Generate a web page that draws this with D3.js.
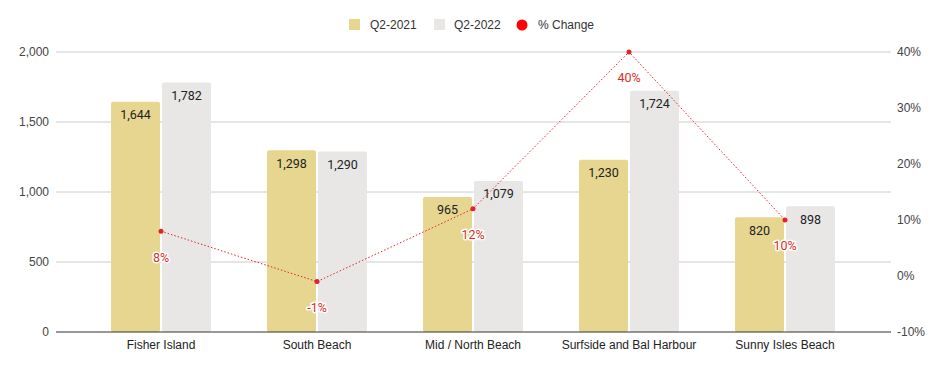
<!DOCTYPE html>
<html>
<head>
<meta charset="utf-8">
<script src="https://cdn.jsdelivr.net/npm/d3@7"></script>
<style>
  body { margin: 0; background: #fff; }
  svg { display: block; font-family: Arial, "Liberation Sans", sans-serif; }
</style>
</head>
<body>
<div id="chart"></div>
<script>
const areas = ["Fisher Island", "South Beach", "Mid / North Beach", "Surfside and Bal Harbour", "Sunny Isles Beach"]
const q2_2021 = [1644, 1298, 965, 1230, 820]
const q2_2022 = [1782, 1290, 1079, 1724, 898]
const pct_change = [8, -1, 12, 40, 10]
const left_ticks = [0, 500, 1000, 1500, 2000]
const right_ticks = [-10, 0, 10, 20, 30, 40]

const W = 944, H = 371
const plot = { left: 56, right: 891, top: 52, bottom: 332 }
const gold = "#e6d68f", grey = "#e8e7e6", red = "#e8202a"

const svg = d3.select("#chart").append("svg")
    .attr("width", W)
    .attr("height", H)

const x = d3.scaleBand()
    .domain(areas)
    .range([83, 863])

const y = d3.scaleLinear()
    .domain([0, 2000])
    .range([plot.bottom, plot.top])

const y2 = d3.scaleLinear()
    .domain([-10, 40])
    .range([plot.bottom, plot.top])

// gridlines
svg.append("g").selectAll("line")
    .data(left_ticks.filter(d => d > 0))
    .join("line")
    .attr("x1", plot.left).attr("x2", plot.right)
    .attr("y1", d => y(d)).attr("y2", d => y(d))
    .attr("stroke", "#cccccc")
    .attr("stroke-width", 1)

// left axis labels
svg.append("g").selectAll("text")
    .data(left_ticks)
    .join("text")
    .attr("x", 49)
    .attr("y", d => y(d))
    .attr("dy", "0.35em")
    .attr("text-anchor", "end")
    .attr("font-size", 12)
    .attr("fill", "#444")
    .text(d3.format(","))

// right axis labels
svg.append("g").selectAll("text")
    .data(right_ticks)
    .join("text")
    .attr("x", 897)
    .attr("y", d => y2(d))
    .attr("dy", "0.35em")
    .attr("text-anchor", "start")
    .attr("font-size", 12)
    .attr("fill", "#444")
    .text(d => d + "%")

const barW = 49, gap = 2
const groups = svg.append("g").selectAll("g")
    .data(areas)
    .join("g")
    .attr("transform", d => `translate(${x(d) + x.bandwidth() / 2}, 0)`)

const series = [
    { values: q2_2021, color: gold, dx: -gap / 2 - barW },
    { values: q2_2022, color: grey, dx: gap / 2 }
]

series.forEach(s => {
    groups.append("rect")
        .attr("x", s.dx)
        .attr("y", (d, i) => y(s.values[i]))
        .attr("width", barW)
        .attr("height", (d, i) => y(0) - y(s.values[i]))
        .attr("rx", 2)
        .attr("fill", s.color)
    groups.append("text")
        .attr("x", s.dx + barW / 2)
        .attr("y", (d, i) => y(s.values[i]) + 13)
        .attr("dy", "0.35em")
        .attr("text-anchor", "middle")
        .attr("font-family", "Roboto, Arial, sans-serif")
        .attr("font-size", 12.5)
        .attr("fill", "#222")
        .text((d, i) => d3.format(",")(s.values[i]))
})

// baseline
svg.append("line")
    .attr("x1", plot.left).attr("x2", plot.right)
    .attr("y1", y(0)).attr("y2", y(0))
    .attr("stroke", "#333")
    .attr("stroke-width", 1)

// x labels
svg.append("g").selectAll("text")
    .data(areas)
    .join("text")
    .attr("x", d => x(d) + x.bandwidth() / 2)
    .attr("y", 345)
    .attr("dy", "0.35em")
    .attr("text-anchor", "middle")
    .attr("font-size", 12)
    .attr("fill", "#222")
    .text(d => d)

// % change line
const pts = areas.map((a, i) => [x(a) + x.bandwidth() / 2, y2(pct_change[i])])
svg.append("path")
    .attr("d", d3.line()(pts))
    .attr("fill", "none")
    .attr("stroke", red)
    .attr("stroke-width", 1)
    .attr("stroke-dasharray", "1.5,2")

svg.append("g").selectAll("circle")
    .data(pts)
    .join("circle")
    .attr("cx", d => d[0])
    .attr("cy", d => d[1])
    .attr("r", 2.5)
    .attr("fill", red)

svg.append("g").selectAll("text")
    .data(pts)
    .join("text")
    .attr("x", d => d[0])
    .attr("y", d => d[1] + 26)
    .attr("text-anchor", "middle")
    .attr("dy", "0.35em")
    .attr("font-family", "Roboto, Arial, sans-serif")
    .attr("font-size", 12.5)
    .attr("fill", "#d93025")
    .attr("stroke", "#fff")
    .attr("stroke-width", 3)
    .attr("stroke-linejoin", "round")
    .attr("paint-order", "stroke")
    .text((d, i) => pct_change[i] + "%")

// legend
const legend = svg.append("g").attr("font-size", 12).attr("fill", "#333")
legend.append("rect").attr("x", 349).attr("y", 19).attr("width", 11).attr("height", 11).attr("fill", gold)
legend.append("text").attr("x", 370).attr("y", 25).attr("dy", "0.35em").text("Q2-2021")
legend.append("rect").attr("x", 434).attr("y", 19).attr("width", 11).attr("height", 11).attr("fill", grey)
legend.append("text").attr("x", 454).attr("y", 25).attr("dy", "0.35em").text("Q2-2022")
legend.append("circle").attr("cx", 522).attr("cy", 25).attr("r", 5.5).attr("fill", "#ff0000")
legend.append("text").attr("x", 538).attr("y", 25).attr("dy", "0.35em").text("% Change")
</script>
</body>
</html>
